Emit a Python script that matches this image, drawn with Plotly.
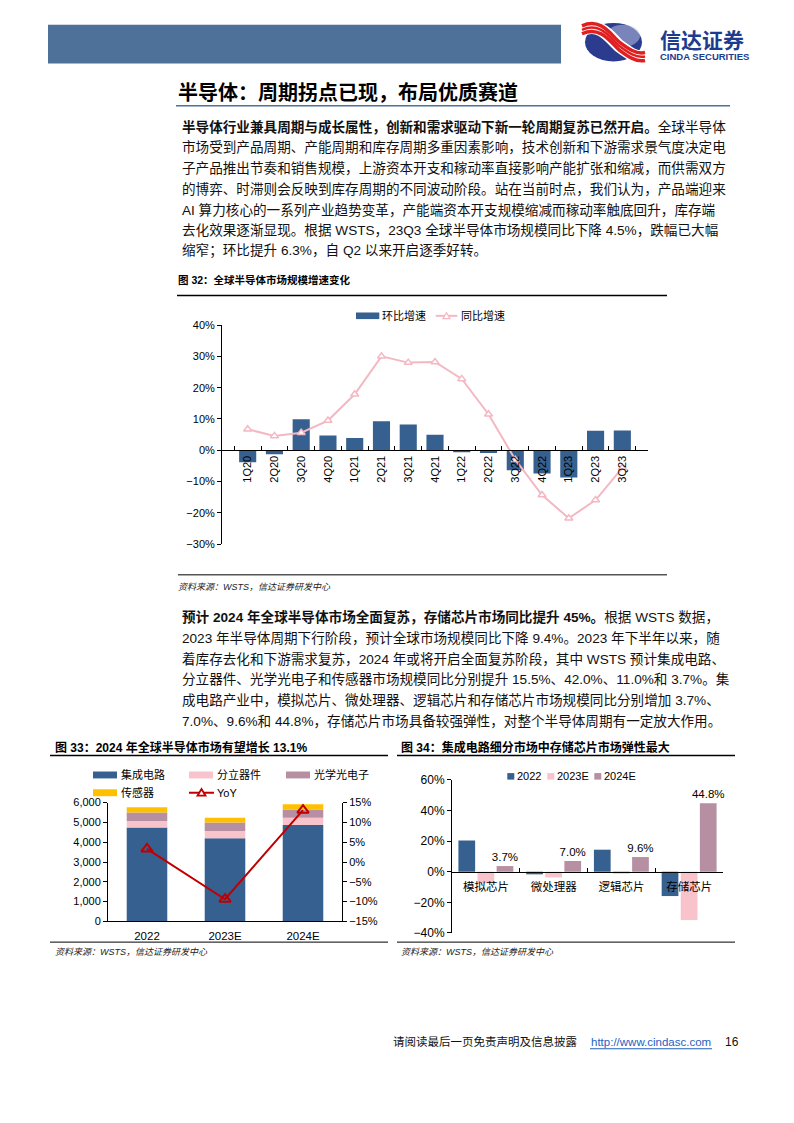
import plotly.graph_objects as go
import numpy as np

# page is 794x1123; the html body has an 8px margin, so the figure is sized to fit inside it
OFF = 8
W, H = 794 - 2 * OFF, 1123 - 2 * OFF
def PX(x): return (x - OFF) / W
def PY(y): return 1 - (y - OFF) / H

FONT = "Liberation Sans, Arial, Noto Sans CJK SC, sans-serif"

# ---------------- data ----------------
quarters = ["1Q20", "2Q20", "3Q20", "4Q20", "1Q21", "2Q21", "3Q21", "4Q21",
            "1Q22", "2Q22", "3Q22", "4Q22", "1Q23", "2Q23", "3Q23"]
qoq = [-3.8, -1.3, 9.9, 4.7, 3.9, 9.3, 8.2, 5.0, -0.6, -0.9, -6.4, -7.4, -8.7, 6.2, 6.3]
yoy = [6.7, 4.6, 5.6, 9.5, 17.9, 30.0, 28.0, 28.2, 22.8, 11.5, -3.0, -14.3, -21.7, -15.9, -5.6]

years33 = ["2022", "2023E", "2024E"]
ic = [4740, 4200, 4870]
discrete = [330, 370, 370]
opto = [430, 420, 410]
sensor = [270, 250, 270]
yoy33 = [3.3, -9.4, 13.1]

cats34 = ["模拟芯片", "微处理器", "逻辑芯片", "存储芯片"]
g2022 = [20.4, -1.7, 14.4, -15.9]
g2023 = [-7.5, -3.7, -1.3, -31.6]
g2024 = [3.7, 7.0, 9.6, 44.8]

para1 = [
    "<b>半导体行业兼具周期与成长属性，创新和需求驱动下新一轮周期复苏已然开启。</b>全球半导体",
    "市场受到产品周期、产能周期和库存周期多重因素影响，技术创新和下游需求景气度决定电",
    "子产品推出节奏和销售规模，上游资本开支和稼动率直接影响产能扩张和缩减，而供需双方",
    "的博弈、时滞则会反映到库存周期的不同波动阶段。站在当前时点，我们认为，产品端迎来",
    "AI 算力核心的一系列产业趋势变革，产能端资本开支规模缩减而稼动率触底回升，库存端",
    "去化效果逐渐显现。根据 WSTS，23Q3 全球半导体市场规模同比下降 4.5%，跌幅已大幅",
    "缩窄；环比提升 6.3%，自 Q2 以来开启逐季好转。",
]
para2 = [
    "<b>预计 2024 年全球半导体市场全面复苏，存储芯片市场同比提升 45%。</b>根据 WSTS 数据，",
    "2023 年半导体周期下行阶段，预计全球市场规模同比下降 9.4%。2023 年下半年以来，随",
    "着库存去化和下游需求复苏，2024 年或将开启全面复苏阶段，其中 WSTS 预计集成电路、",
    "分立器件、光学光电子和传感器市场规模同比分别提升 15.5%、42.0%、11.0%和 3.7%。集",
    "成电路产业中，模拟芯片、微处理器、逻辑芯片和存储芯片市场规模同比分别增加 3.7%、",
    "7.0%、9.6%和 44.8%，存储芯片市场具备较强弹性，对整个半导体周期有一定放大作用。",
]

C_BLUE = "#36608F"
C_PINK = "#F8C3CB"
C_MAUVE = "#B68FA2"
C_YEL = "#FFC000"
C_LPINK = "#F4B8C3"
C_RED = "#C00000"

fig = go.Figure()

# ---------------- chart 32 ----------------
fig.add_trace(go.Bar(x=quarters, y=qoq, name="环比增速", width=0.64,
                     marker=dict(color=C_BLUE, line=dict(width=0)),
                     showlegend=False, xaxis="x", yaxis="y"))
fig.add_trace(go.Scatter(x=quarters, y=yoy, mode="lines+markers", name="同比增速",
                         line=dict(color=C_LPINK, width=2),
                         marker=dict(symbol="triangle-up", size=7, color="white",
                                     line=dict(color=C_LPINK, width=1.5)),
                         showlegend=False, xaxis="x", yaxis="y", cliponaxis=False))

# ---------------- chart 33 ----------------
stack = [ic, discrete, opto, sensor]
names33 = ["集成电路", "分立器件", "光学光电子", "传感器"]
cols33 = [C_BLUE, C_PINK, C_MAUVE, C_YEL]
base = np.zeros(len(years33))
for vals, nm, col in zip(stack, names33, cols33):
    fig.add_trace(go.Bar(x=years33, y=vals, base=base.copy(), width=0.52, offset=-0.26, name=nm,
                         marker=dict(color=col, line=dict(width=0)), showlegend=False,
                         xaxis="x2", yaxis="y2"))
    base = base + np.array(vals)
fig.add_trace(go.Scatter(x=years33, y=yoy33, mode="lines+markers", name="YoY",
                         line=dict(color=C_RED, width=2),
                         marker=dict(symbol="triangle-up-open", size=10, color=C_RED,
                                     line=dict(color=C_RED, width=2)),
                         showlegend=False, xaxis="x2", yaxis="y3", cliponaxis=False))

# ---------------- chart 34 ----------------
for vals, nm, col, show in [(g2022, "2022", C_BLUE, False), (g2023, "2023E", C_PINK, False),
                            (g2024, "2024E", C_MAUVE, True)]:
    fig.add_trace(go.Bar(x=cats34, y=vals, name=nm, marker=dict(color=col, line=dict(width=0)),
                         text=[f"{v:.1f}%" for v in vals] if show else None,
                         textposition="outside" if show else None, constraintext="none",
                         textfont=dict(size=11.5, color="black", family=FONT),
                         cliponaxis=False, showlegend=False, xaxis="x4", yaxis="y4"))

# ---------------- axes ----------------
def tf(size): return dict(family=FONT, size=size, color="black")
fig.update_layout(
    width=W, height=H, margin=dict(l=0, r=0, t=0, b=0),
    paper_bgcolor="white", plot_bgcolor="white",
    font=dict(family=FONT, color="black"), showlegend=False,
    barmode="group", bargap=0.154, bargroupgap=0.125,
    xaxis=dict(domain=[PX(222), PX(648)], anchor="free", position=PY(449), type="category",
               showline=True, linecolor="black", linewidth=1, ticks="inside", ticklen=4,
               tickcolor="black", tickson="boundaries", tickangle=-90, tickfont=tf(11),
               showgrid=False, zeroline=False),
    yaxis=dict(domain=[PY(544), PY(322)], range=[-30, 40], dtick=10, ticksuffix="%",
               showline=True, linecolor="black", ticks="outside", ticklen=4, tickcolor="black",
               showgrid=False, zeroline=False, tickfont=tf(11), anchor="x"),
    xaxis2=dict(domain=[PX(108), PX(342)], anchor="y2", type="category", showline=True,
                linecolor="black", ticks="", tickfont=tf(11.5), showgrid=False,
                ticklabelstandoff=4),
    yaxis2=dict(domain=[PY(926), PY(805.7)], range=[0, 6000], dtick=1000, tickformat=",",
                showline=True, linecolor="black", ticks="outside", ticklen=4, tickcolor="black",
                showgrid=False, zeroline=False, tickfont=tf(11), anchor="x2"),
    yaxis3=dict(overlaying="y2", side="right", range=[-15, 15], dtick=5, ticksuffix="%",
                showline=True, linecolor="black", ticks="outside", ticklen=4, tickcolor="black",
                showgrid=False, zeroline=False, tickfont=tf(11), anchor="x2"),
    xaxis4=dict(domain=[PX(452), PX(723)], anchor="free", position=PY(876), type="category",
                showline=True, linecolor="black", ticks="inside", ticklen=4, tickcolor="black",
                tickson="boundaries", tickfont=tf(11.5), showgrid=False, zeroline=False,
                ticklabelstandoff=4),
    yaxis4=dict(domain=[PY(937.7), PY(782.7)], range=[-40, 60], dtick=20, ticksuffix="%",
                showline=True, linecolor="black", ticks="outside", ticklen=4, tickcolor="black",
                showgrid=False, zeroline=False, tickfont=tf(12), anchor="x4"),
)

# ---------------- page decorations ----------------
shapes = []
def line(x0, y0, x1, y1, color="black", width=1):
    shapes.append(dict(type="line", xref="paper", yref="paper", x0=PX(x0), x1=PX(x1),
                       y0=PY(y0), y1=PY(y1), line=dict(color=color, width=width)))
def rect(x0, y0, x1, y1, color):
    shapes.append(dict(type="rect", xref="paper", yref="paper", x0=PX(x0), x1=PX(x1),
                       y0=PY(y1), y1=PY(y0), fillcolor=color, line=dict(width=0)))
def tri(xc, yc, s, edge, fill, lw):
    p = [(xc - s, yc + s * 0.8), (xc + s, yc + s * 0.8), (xc, yc - s * 0.9)]
    path = "M " + " L ".join(f"{PX(a)},{PY(b)}" for a, b in p) + " Z"
    shapes.append(dict(type="path", xref="paper", yref="paper", path=path,
                       fillcolor=fill, line=dict(color=edge, width=lw)))

rect(48, 18, 561, 57, "#4D7199")
# logo
shapes.append(dict(type="circle", xref="paper", yref="paper", x0=PX(585), x1=PX(642),
                   y0=PY(55), y1=PY(16), fillcolor="#2B3C8E", line=dict(width=0)))
shapes.append(dict(type="circle", xref="paper", yref="paper", x0=PX(606), x1=PX(640),
                   y0=PY(40), y1=PY(18), fillcolor="#B9BFE0", opacity=0.55, line=dict(width=0)))
def swoosh(dy, color, width):
    pts = [(582, 23 + dy), (602, 14 + dy), (612, 34 + dy), (620, 40 + dy),
           (628, 46 + dy), (636, 52 + dy), (645, 50 + dy)]
    p = [(PX(a), PY(b)) for a, b in pts]
    path = (f"M {p[0][0]},{p[0][1]} C {p[1][0]},{p[1][1]} {p[2][0]},{p[2][1]} {p[3][0]},{p[3][1]} "
            f"S {p[5][0]},{p[5][1]} {p[6][0]},{p[6][1]}")
    shapes.append(dict(type="path", xref="paper", yref="paper", path=path,
                       line=dict(color=color, width=width)))
swoosh(0, "white", 13)
swoosh(-4, "#E02020", 3.5)
swoosh(0, "#E02020", 2.5)
swoosh(4, "#E02020", 3.5)

line(176, 100, 730, 100, "#4D7199", 1.5)
line(177, 292, 667, 292, "black", 1.5)
line(178, 575, 667, 575, "black", 1)
line(50, 758, 388, 758, "black", 1.5)
line(397, 758, 735, 758, "black", 1.5)
line(50, 947, 388, 947, "black", 1)
line(397, 947, 735, 947, "black", 1)
line(590, 1055, 712, 1055, "#1F5FBF", 1)

ann = []
def text(x, y, s, size, color="black", anchor="left", family=FONT):
    ann.append(dict(x=PX(x), y=PY(y), xref="paper", yref="paper", text=s, showarrow=False,
                    xanchor=anchor, yanchor="middle", font=dict(size=size, color=color, family=family)))

# legends (drawn manually to match the compact swatches)
rect(356, 309.3, 379.3, 316, C_BLUE); text(380, 312.5, "环比增速", 11)
line(435.7, 312.7, 457.3, 312.7, C_LPINK, 2); tri(446.5, 312.7, 3.5, C_LPINK, "white", 1.2)
text(459, 312.5, "同比增速", 11)

leg33 = [(93, 777.7, C_BLUE, "集成电路"), (189, 777.7, C_PINK, "分立器件"),
         (286, 777.7, C_MAUVE, "光学光电子"), (93, 795.7, C_YEL, "传感器")]
for x0, yc, col, nm in leg33:
    rect(x0, yc - 3.5, x0 + 24, yc + 3.5, col)
    text(x0 + 26, yc, nm, 11)
line(189, 795.7, 214, 795.7, C_RED, 2); tri(201.5, 795.5, 4, C_RED, "white", 1.8)
text(215, 795.7, "YoY", 11)

for x0, col, nm in [(507.3, C_BLUE, "2022"), (547.3, C_PINK, "2023E"), (594.3, C_MAUVE, "2024E")]:
    rect(x0, 775.8, x0 + 7, 782.4, col)
    text(x0 + 7.5, 779, nm, 11)

text(658, 34, "<b>信达证券</b>", 21, "#1D3C8F")
text(658, 50, "<b>CINDA SECURITIES</b>", 9.5, "#1D3C8F")
text(176, 86, "<b>半导体：周期拐点已现，布局优质赛道</b>", 20)

for i, s in enumerate(para1):
    text(180, 121 + i * 21.0, s, 13.6, "#111")
for i, s in enumerate(para2):
    text(180, 618 + i * 21.0, s, 13.6, "#111")

text(176, 276, "<b>图 32：全球半导体市场规模增速变化</b>", 10.5)
text(176, 587, "<i>资料来源：WSTS，信达证券研发中心</i>", 9, "#222")
text(53, 750, "<b>图 33：2024 年全球半导体市场有望增长 13.1%</b>", 12)
text(399, 750, "<b>图 34：集成电路细分市场中存储芯片市场弹性最大</b>", 12)
text(53, 957, "<i>资料来源：WSTS，信达证券研发中心</i>", 9, "#222")
text(399, 957, "<i>资料来源：WSTS，信达证券研发中心</i>", 9, "#222")

text(391, 1048, "请阅读最后一页免责声明及信息披露", 11.5, "#111")
text(589, 1048, "http://www.cindasc.com", 11.5, "#1F5FBF")
text(723, 1048, "16", 12, "#111")

fig.update_layout(shapes=shapes, annotations=ann)
fig.write_html("out.html")
